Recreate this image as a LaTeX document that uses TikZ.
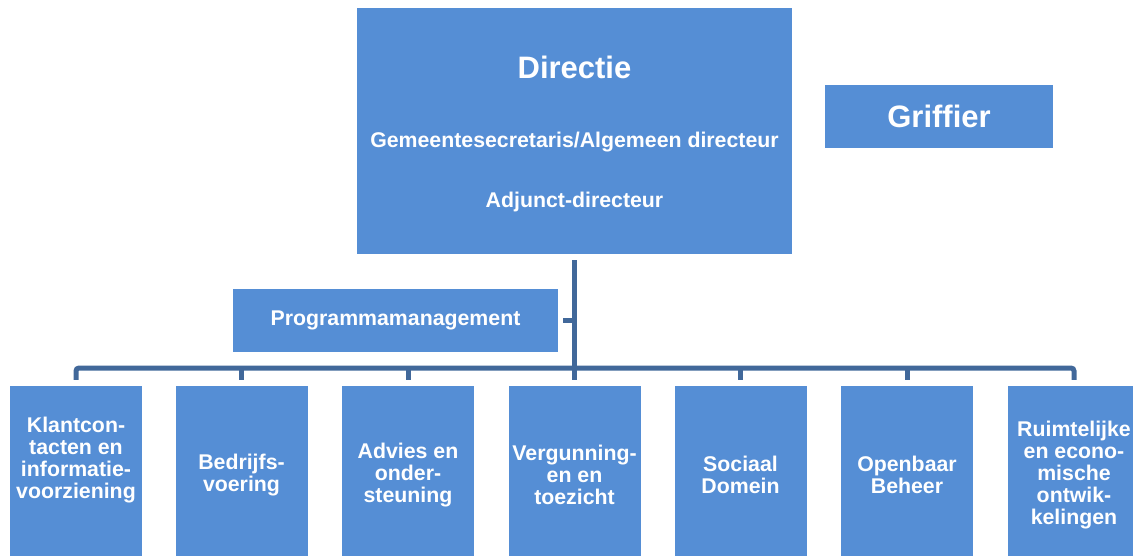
\documentclass[tikz,border=0pt]{standalone}
\usepackage{fontspec}
\setmainfont{Liberation Sans}
\usetikzlibrary{positioning}

\definecolor{unitblue}{HTML}{558ED5}
\definecolor{linkblue}{HTML}{41689A}

\tikzset{
	unit/.style={fill=unitblue, text=white, inner sep=0pt, align=center,
		font=\bfseries\fontsize{21.3}{22}\selectfont},
	dept/.style={unit, minimum width=132pt, minimum height=178pt},
	bigtext/.style={text=white, inner sep=0pt, font=\bfseries\fontsize{31}{34}\selectfont},
	smalltext/.style={text=white, inner sep=0pt, font=\bfseries\fontsize{21.3}{22}\selectfont},
	link/.style={draw=linkblue, line width=5pt},
}

\begin{document}
\begin{tikzpicture}[x=1pt, y=-1pt]
		\useasboundingbox (0,0) rectangle (1133,555);
		\clip (0,0) rectangle (1133,555);

		% top
		\node[unit, minimum width=435pt, minimum height=246pt] (dir) at (574.5,131) {};
		\node[bigtext, anchor=base]   (dirtitle) at (574.5,78)  {Directie};
		\node[smalltext, anchor=base] (dirsec)   at (574.5,147) {Gemeentesecretaris/Algemeen directeur};
		\node[smalltext, anchor=base] (diradj)   at (574.5,207) {Adjunct-directeur};
		\node[unit, minimum width=228pt, minimum height=63pt,
			font=\bfseries\fontsize{31}{34}\selectfont] (grif) at (939,116.5) {Griffier};
		\node[unit, minimum width=325pt, minimum height=63pt] (prog) at (395.5,320.5) {Programmamanagement};

		% departments
		\node[dept] (klant)  at (76,475)    {};
		\node[smalltext, align=center] (klanttxt) at (76,460) {Klantcon-\\tacten en\\informatie-\\voorziening};
		\node[dept] (bedr)   at (241.5,475) {Bedrijfs-\\voering};
		\node[dept] (advies) at (408,475)   {Advies en\\onder-\\steuning};
		\node[dept] (verg)   at (574.5,475) {Vergunning-\\en en\\toezicht};
		\node[dept] (soc)    at (740.5,475) {Sociaal\\Domein};
		\node[dept] (obh)    at (907,475)   {Openbaar\\Beheer};
		\node[dept] (ruimte) at (1074,475)  {Ruimtelijke\\en econo-\\mische\\ontwik-\\kelingen};

		\coordinate (bus) at (0,368);

		\draw[link] ([yshift=-6pt]dir.south) -- ([yshift=6pt]verg.north);
		\draw[link] ([xshift=5pt]prog.east) -- (prog.east -| dir.south);
		\draw[link, rounded corners=3pt] ([yshift=6pt]klant.north) -- (klant.north |- bus)
			-- (ruimte.north |- bus) -- ([yshift=6pt]ruimte.north);
		\draw[link] (bedr.north |- bus)   -- ([yshift=6pt]bedr.north);
		\draw[link] (advies.north |- bus) -- ([yshift=6pt]advies.north);
		\draw[link] (soc.north |- bus)    -- ([yshift=6pt]soc.north);
		\draw[link] (obh.north |- bus)    -- ([yshift=6pt]obh.north);

	\end{tikzpicture}
\end{document}
